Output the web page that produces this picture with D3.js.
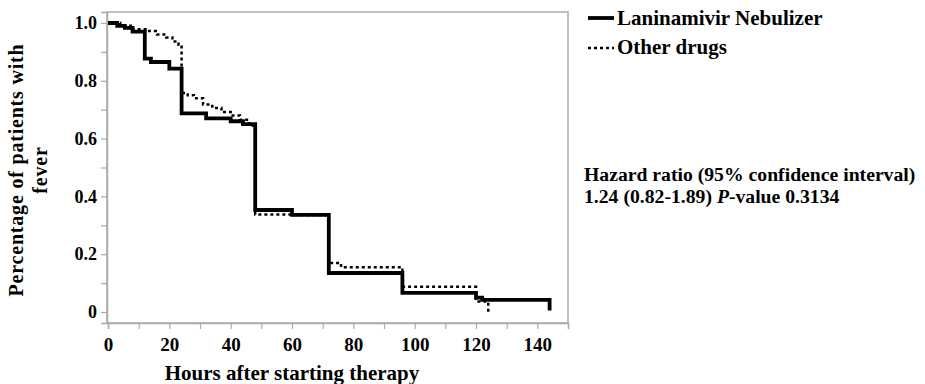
<!DOCTYPE html>
<html>
<head>
<meta charset="utf-8">
<script src="https://cdn.jsdelivr.net/npm/d3@7"></script>
<style>
  body { margin: 0; background: #fff; }
  text { font-family: "Liberation Serif", "Times New Roman", serif; font-weight: bold; fill: #000; }
</style>
</head>
<body>
<div id="chart"></div>
<script>
// Kaplan-Meier steps
var lanHours = [0, 3, 5.5, 8, 12, 14, 20, 24, 32, 40, 44, 48, 60, 72, 96, 120, 122, 144, 144];
var lanSurv  = [1, 0.99, 0.983, 0.97, 0.877, 0.865, 0.842, 0.687, 0.670, 0.660, 0.650, 0.353, 0.336, 0.135, 0.066, 0.05, 0.042, 0.042, 0.005];
var othHours = [0, 4, 8, 13, 16, 19, 21, 23, 24, 26, 28, 31, 34, 37, 40, 43, 46, 48, 60, 72, 76, 96, 120, 124, 124];
var othSurv  = [1, 0.99, 0.978, 0.972, 0.96, 0.95, 0.936, 0.925, 0.758, 0.75, 0.74, 0.718, 0.706, 0.692, 0.68, 0.665, 0.645, 0.337, 0.336, 0.17, 0.155, 0.087, 0.036, 0.01, 0.0];
var xTicks = [0, 20, 40, 60, 80, 100, 120, 140];
var yTicks = [0, 0.2, 0.4, 0.6, 0.8, 1.0];
var legendLabels = ["Laninamivir Nebulizer", "Other drugs"];
var noteLines = ["Hazard ratio (95% confidence interval)", "1.24 (0.82-1.89) "];

var W = 925, H = 384;
var margin = {top: 12, right: 357, bottom: 61, left: 107},
    width = W - margin.left - margin.right,
    height = H - margin.top - margin.bottom;

var x = d3.scaleLinear().domain([0, 150]).range([1, width]);
var y = d3.scaleLinear().domain([-0.038, 1.038]).range([height, 0]);

var svg = d3.select("#chart").append("svg")
    .attr("width", W).attr("height", H);
var g = svg.append("g")
    .attr("transform", "translate(" + margin.left + "," + margin.top + ")");

// frame
g.append("rect")
    .attr("x", 0).attr("y", 0).attr("width", width).attr("height", height)
    .attr("fill", "none").attr("stroke", "#aaa").attr("stroke-width", 1.5);

// x axis: minor ticks every 10, labels every 20
var xAxis = g.append("g").attr("transform", "translate(0," + height + ")");
xAxis.call(d3.axisBottom(x).tickValues(d3.range(0, 151, 10)).tickSize(6)
    .tickFormat(function(d) { return xTicks.indexOf(d) >= 0 ? d : ""; }));
xAxis.select(".domain").attr("stroke", "#aaa").attr("stroke-width", 1.5);
xAxis.selectAll(".tick line").attr("stroke", "#aaa").attr("stroke-width", 1.2);
xAxis.selectAll(".tick text").attr("font-size", 19).attr("dy", "1.0em")
    .style("font-family", "Liberation Serif").style("font-weight", "bold");

// y axis: minor ticks every 0.1
var yAxis = g.append("g");
yAxis.call(d3.axisLeft(y).tickValues(d3.range(0, 1.01, 0.1)).tickSize(6)
    .tickFormat(function(d) {
      var r = Math.round(d * 10) / 10;
      if (Math.round(r * 10) % 2 !== 0) return "";
      return r === 0 ? "0" : r.toFixed(1);
    }));
yAxis.select(".domain").attr("stroke", "#aaa").attr("stroke-width", 1.5);
yAxis.selectAll(".tick line").attr("stroke", "#aaa").attr("stroke-width", 1.2);
yAxis.selectAll(".tick text").attr("font-size", 18).attr("x", -10)
    .style("font-family", "Liberation Serif").style("font-weight", "bold");

var line = d3.line()
    .x(function(d) { return x(d[0]); })
    .y(function(d) { return y(d[1]); })
    .curve(d3.curveStepAfter);

var othData = othHours.map(function(h, i) { return [h, othSurv[i]]; });
var lanData = lanHours.map(function(h, i) { return [h, lanSurv[i]]; });

g.append("path").datum(othData)
    .attr("fill", "none").attr("stroke", "#000").attr("stroke-width", 2.5)
    .attr("stroke-dasharray", "3,3").attr("d", line);
g.append("path").datum(lanData)
    .attr("fill", "none").attr("stroke", "#000").attr("stroke-width", 3.8)
    .attr("d", line);

// axis titles
svg.append("text")
    .attr("x", 292).attr("y", 380).attr("text-anchor", "middle")
    .attr("font-size", 21).text("Hours after starting therapy");
var yt = svg.append("text")
    .attr("transform", "translate(23,170) rotate(-90)")
    .attr("text-anchor", "middle").attr("font-size", 20)
    .attr("letter-spacing", 0.8);
yt.append("tspan").attr("x", 0).attr("dy", 0).text("Percentage of patients with");
yt.append("tspan").attr("x", 0).attr("dy", 24).text("fever");

// legend
var leg = svg.append("g").attr("transform", "translate(588,0)");
leg.append("line").attr("x1", 0).attr("x2", 26).attr("y1", 18).attr("y2", 18)
    .attr("stroke", "#000").attr("stroke-width", 3.8);
leg.append("line").attr("x1", 0).attr("x2", 26).attr("y1", 48).attr("y2", 48)
    .attr("stroke", "#000").attr("stroke-width", 2.5).attr("stroke-dasharray", "3,3");
leg.append("text").attr("x", 29).attr("y", 25).attr("font-size", 21).text(legendLabels[0]);
leg.append("text").attr("x", 29).attr("y", 54).attr("font-size", 21).text(legendLabels[1]);

// hazard ratio note
svg.append("text").attr("x", 584).attr("y", 181).attr("font-size", 19.7).text(noteLines[0]);
var n2 = svg.append("text").attr("x", 584).attr("y", 203).attr("font-size", 19.7);
n2.append("tspan").text(noteLines[1]);
n2.append("tspan").attr("font-style", "italic").text("P");
n2.append("tspan").text("-value 0.3134");
</script>
</body>
</html>
